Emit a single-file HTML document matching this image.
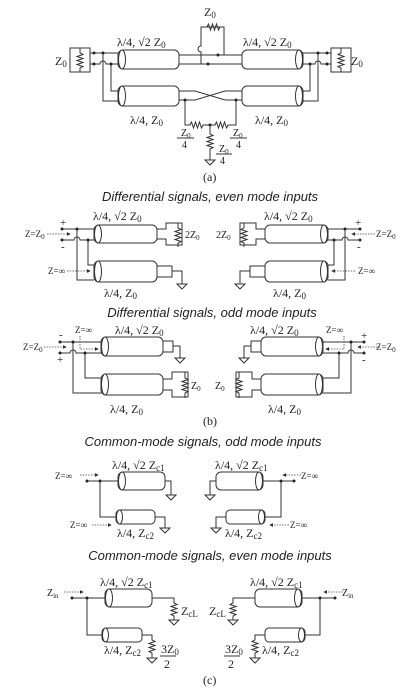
<!DOCTYPE html>
<html><head><meta charset="utf-8">
<style>
html,body{margin:0;padding:0;background:#fff;}
svg{display:block;}
text{font-family:"Liberation Serif",serif;font-size:12px;fill:#222;}
.it{font-family:"Liberation Sans",sans-serif;font-style:italic;font-size:13px;}
.sm{font-size:9px;}
.w{fill:none;stroke:#333;stroke-width:1;}
.cx{fill:#fff;stroke:#333;stroke-width:1;}
.dt{fill:#222;}
.ar{fill:none;stroke:#444;stroke-width:0.8;stroke-dasharray:1.5 1.2;}
</style></head>
<body>
<svg width="401" height="697" viewBox="0 0 401 697">
<defs>
<marker id="ah" markerWidth="5" markerHeight="5" refX="4" refY="2.5" orient="auto"><path d="M0,0 L5,2.5 L0,5 z" fill="#333"/></marker>
</defs>

<!-- ===== (a) ===== -->
<g>
 <g>
  <rect class="w" x="70" y="48" width="20" height="24"/>
  <path class="w" d="M80,48 v5 l3,1.5 l-6,2 l6,2 l-6,2 l6,2 l-6,2 l6,2 l-3,1.5 v4"/>
  <path class="w" d="M90,53 H118 M90,64 H100 a3,3 0 0 1 6,0 H118"/>
  <path class="w" d="M103,53 V101 H118 M111,64 V91 H118"/>
  <circle class="dt" cx="94" cy="53" r="1.5"/><circle class="dt" cx="94" cy="64" r="1.5"/>
  <circle class="dt" cx="103" cy="53" r="1.5"/><circle class="dt" cx="111" cy="64" r="1.5"/>
  <rect class="cx" x="118" y="50" width="61" height="19" rx="5"/><ellipse class="cx" cx="122" cy="59.5" rx="3.5" ry="9.5"/>
  <rect class="cx" x="118" y="86" width="61" height="20" rx="5"/><ellipse class="cx" cx="122" cy="96" rx="3.5" ry="10"/>
 </g>
 <g transform="translate(421,0) scale(-1,1)">
  <rect class="w" x="70" y="48" width="20" height="24"/>
  <path class="w" d="M80,48 v5 l3,1.5 l-6,2 l6,2 l-6,2 l6,2 l-6,2 l6,2 l-3,1.5 v4"/>
  <path class="w" d="M90,53 H118 M90,64 H100 a3,3 0 0 1 6,0 H118"/>
  <path class="w" d="M103,53 V101 H118 M111,64 V91 H118"/>
  <circle class="dt" cx="94" cy="53" r="1.5"/><circle class="dt" cx="94" cy="64" r="1.5"/>
  <circle class="dt" cx="103" cy="53" r="1.5"/><circle class="dt" cx="111" cy="64" r="1.5"/>
  <rect class="cx" x="118" y="50" width="61" height="19" rx="5"/><ellipse class="cx" cx="122" cy="59.5" rx="3.5" ry="9.5"/>
  <rect class="cx" x="118" y="86" width="61" height="20" rx="5"/><ellipse class="cx" cx="122" cy="96" rx="3.5" ry="10"/>
 </g>
 <path class="w" d="M179,55 H242 M179,64 H242"/>
 <path class="w" d="M201,64 V52 a3,3 0 0 1 0,-6 V27 H224 V55"/>
 <path class="w" d="M204,27 h3 l1.5,-3 l2,6 l2,-6 l2,6 l2,-6 l2,6 l1.5,-3 h3"/>
 <circle class="dt" cx="208" cy="64" r="1.5"/><circle class="dt" cx="218" cy="55" r="1.5"/>
 <path class="w" d="M179,91 H195 L225,100 H242 M179,100 H195 L225,91 H242"/>
 <path class="w" d="M185,100 V125 H190 l1.5,-3 l2,6 l2,-6 l2,6 l2,-6 l2,6 l1.5,-3 H210 H215 l1.5,-3 l2,6 l2,-6 l2,6 l2,-6 l2,6 l1.5,-3 H236 V100"/>
 <circle class="dt" cx="185" cy="100" r="1.5"/><circle class="dt" cx="236" cy="100" r="1.5"/><circle class="dt" cx="210" cy="125" r="1.5"/>
 <path class="w" d="M210,125 V134 l3,1.5 l-6,2 l6,2 l-6,2 l6,2 l-6,2 l6,2 l-3,1.5 V160"/>
 <path class="w" d="M205,160 h10 l-5,5 z"/>
 <text x="204" y="16">Z<tspan class="sm" dy="2">0</tspan></text>
 <text x="55" y="65">Z<tspan class="sm" dy="2">0</tspan></text>
 <text x="351" y="65">Z<tspan class="sm" dy="2">0</tspan></text>
 <text x="117" y="46">λ/4, √2 Z<tspan class="sm" dy="2">0</tspan></text>
 <text x="243" y="46">λ/4, √2 Z<tspan class="sm" dy="2">0</tspan></text>
 <text x="130" y="124">λ/4, Z<tspan class="sm" dy="2">0</tspan></text>
 <text x="255" y="124">λ/4, Z<tspan class="sm" dy="2">0</tspan></text>
 <g>
  <text x="181" y="136" style="font-size:10px">Z<tspan dy="2" style="font-size:7px">0</tspan></text><path class="w" d="M177,138 H194"/><text x="182" y="148" style="font-size:10px">4</text>
  <text x="233" y="136" style="font-size:10px">Z<tspan dy="2" style="font-size:7px">0</tspan></text><path class="w" d="M230,138 H247"/><text x="236" y="148" style="font-size:10px">4</text>
  <text x="219" y="152" style="font-size:10px">Z<tspan dy="2" style="font-size:7px">0</tspan></text><path class="w" d="M216,154 H232"/><text x="220" y="164" style="font-size:10px">4</text>
 </g>
 <text x="203" y="181">(a)</text>
</g>

<text class="it" x="210" y="201" text-anchor="middle">Differential signals, even mode inputs</text>

<!-- ===== (b) even ===== -->
<g>
 <rect class="cx" x="94" y="225" width="63" height="18" rx="5"/><ellipse class="cx" cx="98" cy="234" rx="3.5" ry="9"/>
 <path class="w" d="M157,229 H166 V223 H182 V245 H166 V239 H157"/>
 <path class="w" d="M178,223 v5 l3,1.5 l-6,2 l6,2 l-6,2 l6,2 l-6,2 l6,2 l-3,1.5 v4"/>
 <rect class="cx" x="94" y="261" width="63" height="21" rx="5"/><ellipse class="cx" cx="98" cy="271.5" rx="3.5" ry="10.5"/>
 <rect class="w" x="157" y="266" width="15" height="11"/>
 <path class="w" d="M172,271 H182 V284 M177,284 h10 l-5,5 z"/>
 <path class="w" d="M62,229 H94 M62,240 H74 a3,3 0 0 1 6,0 H94"/>
 <path class="w" d="M77,229 V280 H94 M88,240 V265 H94"/>
 <circle class="dt" cx="62" cy="229" r="1.5"/><circle class="dt" cx="62" cy="240" r="1.5"/>
 <circle class="dt" cx="77" cy="229" r="1.5"/><circle class="dt" cx="88" cy="240" r="1.5"/>
 <path class="ar" d="M47,234 H70" marker-end="url(#ah)"/>
 <path class="ar" d="M67,271 H90" marker-end="url(#ah)"/>
</g>
<g transform="translate(422,0) scale(-1,1)">
 <rect class="cx" x="94" y="225" width="63" height="18" rx="5"/><ellipse class="cx" cx="98" cy="234" rx="3.5" ry="9"/>
 <path class="w" d="M157,229 H166 V223 H182 V245 H166 V239 H157"/>
 <path class="w" d="M178,223 v5 l3,1.5 l-6,2 l6,2 l-6,2 l6,2 l-6,2 l6,2 l-3,1.5 v4"/>
 <rect class="cx" x="94" y="261" width="63" height="21" rx="5"/><ellipse class="cx" cx="98" cy="271.5" rx="3.5" ry="10.5"/>
 <rect class="w" x="157" y="266" width="15" height="11"/>
 <path class="w" d="M172,271 H182 V284 M177,284 h10 l-5,5 z"/>
 <path class="w" d="M62,229 H94 M62,240 H74 a3,3 0 0 1 6,0 H94"/>
 <path class="w" d="M77,229 V280 H94 M88,240 V265 H94"/>
 <circle class="dt" cx="62" cy="229" r="1.5"/><circle class="dt" cx="62" cy="240" r="1.5"/>
 <circle class="dt" cx="77" cy="229" r="1.5"/><circle class="dt" cx="88" cy="240" r="1.5"/>
 <path class="ar" d="M47,234 H70" marker-end="url(#ah)"/>
 <path class="ar" d="M67,271 H90" marker-end="url(#ah)"/>
</g>
<g>
 <text x="93" y="220">λ/4, √2 Z<tspan class="sm" dy="2">0</tspan></text>
 <text x="264" y="220">λ/4, √2 Z<tspan class="sm" dy="2">0</tspan></text>
 <text x="104" y="297">λ/4, Z<tspan class="sm" dy="2">0</tspan></text>
 <text x="273" y="297">λ/4, Z<tspan class="sm" dy="2">0</tspan></text>
 <text x="185" y="238" style="font-size:10px">2Z<tspan style="font-size:7px" dy="2">0</tspan></text>
 <text x="216" y="238" style="font-size:10px">2Z<tspan style="font-size:7px" dy="2">0</tspan></text>
 <text x="25" y="237" style="font-size:9px">Z=Z<tspan style="font-size:7px" dy="2">0</tspan></text>
 <text x="376" y="237" style="font-size:9px">Z=Z<tspan style="font-size:7px" dy="2">0</tspan></text>
 <text x="48" y="274" style="font-size:9px">Z=∞</text>
 <text x="358" y="274" style="font-size:9px">Z=∞</text>
 <text x="60" y="226" style="font-size:11px">+</text><text x="61" y="250" style="font-size:11px">-</text>
 <text x="355" y="226" style="font-size:11px">+</text><text x="357" y="250" style="font-size:11px">-</text>
</g>

<text class="it" x="212" y="317" text-anchor="middle">Differential signals, odd mode inputs</text>

<!-- ===== (b) odd ===== -->
<g>
 <rect class="cx" x="101" y="337" width="62" height="19" rx="5"/><ellipse class="cx" cx="105" cy="346.5" rx="3.5" ry="9.5"/>
 <rect class="w" x="163" y="341" width="10" height="11"/>
 <path class="w" d="M173,346 H180 V358 M175,358 h10 l-5,5 z"/>
 <rect class="cx" x="101" y="374" width="62" height="21" rx="5"/><ellipse class="cx" cx="105" cy="384.5" rx="3.5" ry="10.5"/>
 <path class="w" d="M163,379 H172 V372 H188 V397 H172 V390 H163"/>
 <path class="w" d="M185,372 v6 l3,1.5 l-6,2 l6,2 l-6,2 l6,2 l-6,2 l6,2 l-3,1.5 v5"/>
 <path class="w" d="M60,342 H101 M60,353 H70 a3,3 0 0 1 6,0 H101"/>
 <path class="w" d="M73,342 V393 H101 M85,353 V378 H101"/>
 <circle class="dt" cx="60" cy="342" r="1.5"/><circle class="dt" cx="60" cy="353" r="1.5"/>
 <circle class="dt" cx="73" cy="342" r="1.5"/><circle class="dt" cx="85" cy="353" r="1.5"/>
 <path class="ar" d="M44,347 H66" marker-end="url(#ah)"/>
 <path class="ar" d="M80,336 V349 H98" marker-end="url(#ah)"/>
</g>
<g transform="translate(424,0) scale(-1,1)">
 <rect class="cx" x="101" y="337" width="62" height="19" rx="5"/><ellipse class="cx" cx="105" cy="346.5" rx="3.5" ry="9.5"/>
 <rect class="w" x="163" y="341" width="10" height="11"/>
 <path class="w" d="M173,346 H180 V358 M175,358 h10 l-5,5 z"/>
 <rect class="cx" x="101" y="374" width="62" height="21" rx="5"/><ellipse class="cx" cx="105" cy="384.5" rx="3.5" ry="10.5"/>
 <path class="w" d="M163,379 H172 V372 H188 V397 H172 V390 H163"/>
 <path class="w" d="M185,372 v6 l3,1.5 l-6,2 l6,2 l-6,2 l6,2 l-6,2 l6,2 l-3,1.5 v5"/>
 <path class="w" d="M60,342 H101 M60,353 H70 a3,3 0 0 1 6,0 H101"/>
 <path class="w" d="M73,342 V393 H101 M85,353 V378 H101"/>
 <circle class="dt" cx="60" cy="342" r="1.5"/><circle class="dt" cx="60" cy="353" r="1.5"/>
 <circle class="dt" cx="73" cy="342" r="1.5"/><circle class="dt" cx="85" cy="353" r="1.5"/>
 <path class="ar" d="M44,347 H66" marker-end="url(#ah)"/>
 <path class="ar" d="M80,336 V349 H98" marker-end="url(#ah)"/>
</g>
<g>
 <text x="115" y="334">λ/4, √2 Z<tspan class="sm" dy="2">0</tspan></text>
 <text x="250" y="334">λ/4, √2 Z<tspan class="sm" dy="2">0</tspan></text>
 <text x="110" y="413">λ/4, Z<tspan class="sm" dy="2">0</tspan></text>
 <text x="268" y="413">λ/4, Z<tspan class="sm" dy="2">0</tspan></text>
 <text x="75" y="333" style="font-size:9px">Z=∞</text>
 <text x="326" y="333" style="font-size:9px">Z=∞</text>
 <text x="191" y="389" style="font-size:10px">Z<tspan style="font-size:7px" dy="2">0</tspan></text>
 <text x="215" y="389" style="font-size:10px">Z<tspan style="font-size:7px" dy="2">0</tspan></text>
 <text x="23" y="350" style="font-size:9px">Z=Z<tspan style="font-size:7px" dy="2">0</tspan></text>
 <text x="376" y="350" style="font-size:9px">Z=Z<tspan style="font-size:7px" dy="2">0</tspan></text>
 <text x="59" y="338" style="font-size:11px">-</text><text x="57" y="363" style="font-size:11px">+</text>
 <text x="361" y="339" style="font-size:11px">+</text><text x="362" y="363" style="font-size:11px">-</text>
 <text x="203" y="425">(b)</text>
</g>

<text class="it" x="203" y="446" text-anchor="middle">Common-mode signals, odd mode inputs</text>

<!-- ===== (c) odd ===== -->
<g>
 <rect class="cx" x="118" y="472" width="47" height="18" rx="5"/><ellipse class="cx" cx="122" cy="481" rx="3.5" ry="9"/>
 <path class="w" d="M165,481 H171 V495 M166,495 h10 l-5,5 z"/>
 <rect class="cx" x="116" y="510" width="39" height="14" rx="4"/><ellipse class="cx" cx="119.5" cy="517" rx="3" ry="7"/>
 <path class="w" d="M155,517 H165 V528 M160,528 h10 l-5,5 z"/>
 <path class="w" d="M87,481 H118 M100,481 V517 H116"/>
 <circle class="dt" cx="87" cy="481" r="1.5"/><circle class="dt" cx="100" cy="481" r="1.5"/>
 <path class="ar" d="M80,475 H98" marker-end="url(#ah)"/>
 <path class="ar" d="M92,525 H111" marker-end="url(#ah)"/>
</g>
<g transform="translate(381,0) scale(-1,1)">
 <rect class="cx" x="118" y="472" width="47" height="18" rx="5"/><ellipse class="cx" cx="122" cy="481" rx="3.5" ry="9"/>
 <path class="w" d="M165,481 H171 V495 M166,495 h10 l-5,5 z"/>
 <rect class="cx" x="116" y="510" width="39" height="14" rx="4"/><ellipse class="cx" cx="119.5" cy="517" rx="3" ry="7"/>
 <path class="w" d="M155,517 H165 V528 M160,528 h10 l-5,5 z"/>
 <path class="w" d="M87,481 H118 M100,481 V517 H116"/>
 <circle class="dt" cx="87" cy="481" r="1.5"/><circle class="dt" cx="100" cy="481" r="1.5"/>
 <path class="ar" d="M80,475 H98" marker-end="url(#ah)"/>
 <path class="ar" d="M92,525 H111" marker-end="url(#ah)"/>
</g>
<g>
 <text x="112" y="469">λ/4, √2 Z<tspan class="sm" dy="2">c1</tspan></text>
 <text x="215" y="469">λ/4, √2 Z<tspan class="sm" dy="2">c1</tspan></text>
 <text x="117" y="537">λ/4, Z<tspan class="sm" dy="2">c2</tspan></text>
 <text x="225" y="537">λ/4, Z<tspan class="sm" dy="2">c2</tspan></text>
 <text x="55" y="479" style="font-size:9px">Z=∞</text>
 <text x="301" y="479" style="font-size:9px">Z=∞</text>
 <text x="70" y="528" style="font-size:9px">Z=∞</text>
 <text x="290" y="528" style="font-size:9px">Z=∞</text>
</g>

<text class="it" x="210" y="560" text-anchor="middle">Common-mode signals, even mode inputs</text>

<!-- ===== (c) even ===== -->
<g>
 <rect class="cx" x="105" y="589" width="47" height="18" rx="5"/><ellipse class="cx" cx="109" cy="598" rx="3.5" ry="9"/>
 <path class="w" d="M152,598 H174 V603 l3,1.5 l-6,2 l6,2 l-6,2 l6,2 l-6,2 l3,1.5 V620 M169,620 h10 l-5,5 z"/>
 <rect class="cx" x="102" y="628" width="40" height="14" rx="4"/><ellipse class="cx" cx="105.5" cy="635" rx="3" ry="7"/>
 <path class="w" d="M142,635 H152 V640 l3,1.5 l-6,2 l6,2 l-6,2 l6,2 l-6,2 l3,1.5 V658 M147,658 h10 l-5,5 z"/>
 <path class="w" d="M72,598 H105 M87,598 V635 H102"/>
 <circle class="dt" cx="72" cy="598" r="1.5"/><circle class="dt" cx="87" cy="598" r="1.5"/>
 <path class="ar" d="M64,592 H83" marker-end="url(#ah)"/>
</g>
<g transform="translate(407,0) scale(-1,1)">
 <rect class="cx" x="105" y="589" width="47" height="18" rx="5"/><ellipse class="cx" cx="109" cy="598" rx="3.5" ry="9"/>
 <path class="w" d="M152,598 H174 V603 l3,1.5 l-6,2 l6,2 l-6,2 l6,2 l-6,2 l3,1.5 V620 M169,620 h10 l-5,5 z"/>
 <rect class="cx" x="102" y="628" width="40" height="14" rx="4"/><ellipse class="cx" cx="105.5" cy="635" rx="3" ry="7"/>
 <path class="w" d="M142,635 H152 V640 l3,1.5 l-6,2 l6,2 l-6,2 l6,2 l-6,2 l3,1.5 V658 M147,658 h10 l-5,5 z"/>
 <path class="w" d="M72,598 H105 M87,598 V635 H102"/>
 <circle class="dt" cx="72" cy="598" r="1.5"/><circle class="dt" cx="87" cy="598" r="1.5"/>
 <path class="ar" d="M64,592 H83" marker-end="url(#ah)"/>
</g>
<g>
 <text x="100" y="586">λ/4, √2 Z<tspan class="sm" dy="2">c1</tspan></text>
 <text x="250" y="586">λ/4, √2 Z<tspan class="sm" dy="2">c1</tspan></text>
 <text x="47" y="596" style="font-size:10px">Z<tspan style="font-size:7px" dy="2">in</tspan></text>
 <text x="342" y="596" style="font-size:10px">Z<tspan style="font-size:7px" dy="2">in</tspan></text>
 <text x="181" y="615">Z<tspan class="sm" dy="2">cL</tspan></text>
 <text x="209" y="615">Z<tspan class="sm" dy="2">cL</tspan></text>
 <text x="104" y="654">λ/4, Z<tspan class="sm" dy="2">c2</tspan></text>
 <text x="262" y="654">λ/4, Z<tspan class="sm" dy="2">c2</tspan></text>
 <text x="161" y="653">3Z<tspan class="sm" dy="2">0</tspan></text><path class="w" d="M160,656 H176"/><text x="164" y="668">2</text>
 <text x="225" y="653">3Z<tspan class="sm" dy="2">0</tspan></text><path class="w" d="M224,656 H240"/><text x="228" y="668">2</text>
 <text x="203" y="684">(c)</text>
</g>
</svg>
</body></html>
